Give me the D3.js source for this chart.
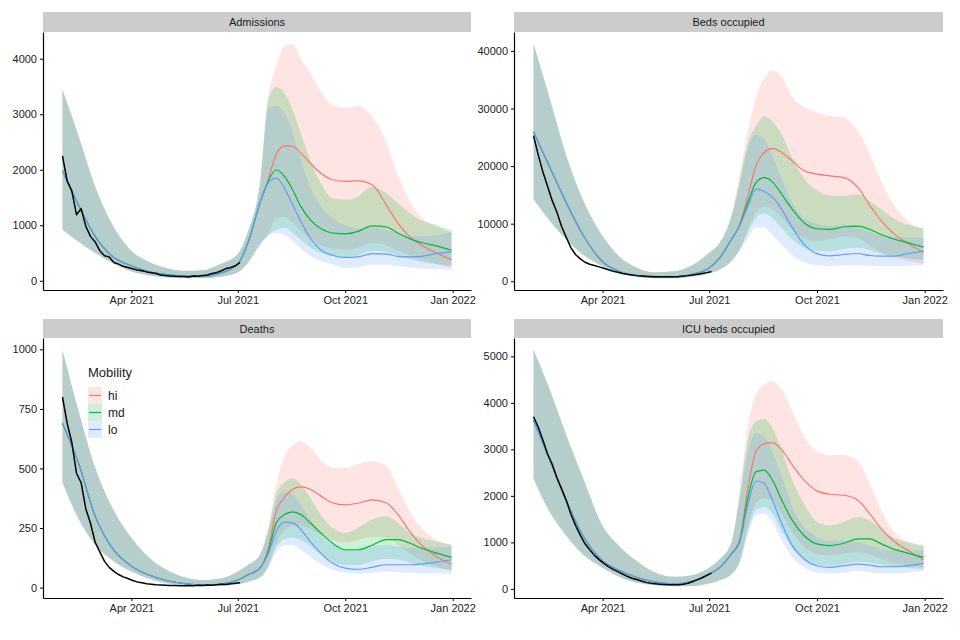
<!DOCTYPE html>
<html>
<head>
<meta charset="utf-8">
<script src="https://cdn.jsdelivr.net/npm/d3@7"></script>
<style>
    body { margin: 0; background: #fff; }
    text { font-family: "Liberation Sans", Arial, sans-serif; }
</style>
</head>
<body>
<svg width="960" height="640"></svg>
<script>
// knot dates for the model curves: first 13 are shared by all scenarios, the rest split by mobility
const knotDates = ["2021-02-01", "2021-02-15", "2021-03-01", "2021-03-15", "2021-04-01", "2021-04-15",
    "2021-05-01", "2021-05-15", "2021-06-01", "2021-06-15", "2021-07-01", "2021-07-10", "2021-07-20",
    "2021-07-27", "2021-08-03", "2021-08-10", "2021-08-17", "2021-08-24", "2021-09-01", "2021-09-10",
    "2021-09-20", "2021-10-01", "2021-10-12", "2021-10-24", "2021-11-05", "2021-11-15", "2021-11-25",
    "2021-12-05", "2021-12-18", "2021-12-31"]
const obsStart = "2021-02-01"
const obsStepDays = 4
const xTickDates = ["2021-04-01", "2021-07-01", "2021-10-01", "2022-01-01"]
const scenarios = ["hi", "md", "lo"]
const scenarioColors = ["#F8766D", "#00BA38", "#619CFF"]
const legendTitle = "Mobility"

// Admissions
const admTicks = [0, 1000, 2000, 3000, 4000]
const admEarlyMid = [1980, 1350, 800, 450, 270, 170, 110, 85, 85, 130, 300, 700, 1400]
const admEarlyLow = [920, 700, 500, 330, 165, 100, 60, 45, 45, 70, 150, 330, 650]
const admEarlyUp = [3440, 2600, 1700, 1040, 540, 350, 230, 180, 190, 290, 480, 900, 1750]
const admHiMid = [1810, 2280, 2430, 2420, 2300, 2120, 1940, 1820, 1790, 1800, 1730, 1370, 1040, 800, 650, 500, 380]
const admHiLow = [850, 1130, 1150, 1050, 900, 760, 640, 580, 560, 600, 680, 640, 540, 460, 380, 300, 230]
const admHiUp = [3300, 3860, 4220, 4270, 4000, 3740, 3410, 3170, 3110, 3150, 2960, 2500, 1900, 1450, 1150, 980, 850]
const admMdMid = [1790, 2000, 1880, 1640, 1340, 1100, 940, 860, 845, 890, 990, 970, 860, 760, 690, 630, 550]
const admMdLow = [820, 920, 950, 870, 740, 600, 500, 450, 430, 460, 540, 520, 450, 390, 340, 300, 270]
const admMdUp = [3250, 3490, 3380, 3080, 2660, 2180, 1760, 1490, 1460, 1520, 1700, 1580, 1400, 1220, 1090, 1000, 910]
const admLoMid = [1760, 1850, 1670, 1370, 1070, 770, 560, 460, 420, 430, 490, 480, 440, 430, 440, 490, 520]
const admLoLow = [800, 860, 830, 720, 580, 450, 360, 300, 230, 240, 290, 290, 260, 240, 220, 210, 200]
const admLoUp = [3100, 3150, 3020, 2660, 2180, 1700, 1340, 1130, 1000, 940, 960, 920, 860, 820, 800, 820, 880]
const admObs = [2250, 1800, 1620, 1190, 1300, 980, 800, 700, 540, 450, 430, 330, 300, 260, 240, 215, 195, 180,
    160, 145, 130, 105, 95, 85, 80, 75, 78, 68, 85, 80, 95, 105, 130, 150, 180, 220, 240, 270, 330]

// Beds occupied
const bedsTicks = [0, 10000, 20000, 30000, 40000]
const bedsEarlyMid = [25970, 19750, 13650, 8130, 3400, 1740, 990, 755, 755, 1160, 2320, 4070, 7260]
const bedsEarlyLow = [14230, 10460, 7260, 4650, 2610, 1450, 755, 520, 520, 755, 1340, 2030, 3490]
const bedsEarlyUp = [41250, 31660, 21790, 14230, 7840, 4360, 2320, 1570, 1740, 2610, 4940, 6680, 11330]
const bedsHiMid = [9800, 14820, 20040, 22370, 23070, 22370, 20900, 19200, 18600, 18300, 18010, 16300, 13200, 10500, 8400, 6500, 5000]
const bedsHiLow = [5600, 9000, 12000, 13000, 12500, 11000, 9000, 7500, 7000, 7200, 7800, 7500, 6200, 5000, 4200, 3500, 3000]
const bedsHiUp = [18500, 26000, 32000, 35300, 36600, 35500, 32000, 30200, 29300, 28700, 28400, 26000, 22200, 17300, 13500, 10400, 9000]
const bedsMdMid = [9700, 13650, 17140, 18010, 17260, 15100, 12490, 10170, 9120, 9000, 9470, 9590, 9000, 8130, 7380, 6680, 5930]
const bedsMdLow = [5400, 8500, 11000, 11800, 11000, 9200, 7300, 5800, 5200, 5200, 5600, 5800, 5400, 4800, 4400, 4000, 3700]
const bedsMdUp = [17500, 24000, 27000, 28600, 27800, 25500, 21400, 17800, 15800, 14900, 14800, 15100, 14000, 12500, 11000, 9800, 9200]
const bedsLoMid = [9590, 13000, 16000, 15600, 14600, 12490, 9300, 6400, 4800, 4400, 4650, 4820, 4470, 4360, 4360, 4820, 5230]
const bedsLoLow = [5230, 7500, 9400, 9300, 8000, 6300, 4500, 3300, 2800, 2700, 2800, 2800, 2700, 2600, 2600, 2700, 2800]
const bedsLoUp = [16560, 22950, 25500, 24700, 21800, 17700, 13600, 11000, 10000, 9600, 9800, 9400, 8600, 8000, 7700, 7600, 7500]
const bedsObs = [25300, 22000, 19000, 16500, 14000, 12000, 9500, 7600, 5800, 4600, 3900, 3300, 2950, 2750, 2500,
    2250, 2000, 1750, 1550, 1350, 1200, 1080, 980, 920, 870, 830, 800, 780, 770, 780, 800, 840, 900, 980, 1080,
    1200, 1350, 1500, 1700]

// Deaths
const deathsTicks = [0, 250, 500, 750, 1000]
const deathsEarlyMid = [690, 519, 300, 170, 90, 55, 30, 18, 11, 14, 32, 54, 82]
const deathsEarlyLow = [441, 286, 180, 117, 68, 39, 18, 10, 6, 8, 14, 25, 42]
const deathsEarlyUp = [998, 737, 504, 342, 209, 131, 75, 46, 32, 37, 68, 96, 138]
const deathsHiMid = [160, 321, 378, 413, 423, 413, 385, 356, 347, 354, 368, 356, 307, 237, 180, 131, 99]
const deathsHiLow = [90, 190, 240, 260, 260, 245, 220, 200, 190, 200, 215, 210, 180, 145, 115, 90, 70]
const deathsHiUp = [250, 434, 547, 596, 614, 589, 533, 504, 502, 519, 530, 511, 420, 321, 251, 201, 180]
const deathsMdMid = [150, 272, 307, 318, 307, 272, 230, 187, 159, 159, 178, 201, 201, 187, 166, 145, 127]
const deathsMdLow = [85, 170, 205, 210, 200, 175, 140, 110, 95, 95, 110, 120, 118, 105, 92, 82, 75]
const deathsMdUp = [240, 392, 441, 459, 434, 378, 307, 251, 230, 251, 286, 300, 272, 230, 209, 194, 180]
const deathsLoMid = [140, 237, 275, 272, 244, 194, 145, 103, 82, 77, 85, 96, 96, 96, 99, 107, 117]
const deathsLoLow = [80, 150, 178, 178, 160, 130, 100, 75, 62, 58, 62, 68, 66, 62, 60, 60, 58]
const deathsLoUp = [230, 364, 403, 392, 349, 286, 223, 180, 159, 159, 173, 180, 173, 166, 166, 169, 173]
const deathsObs = [800, 690, 610, 480, 440, 330, 270, 190, 150, 110, 85, 68, 55, 45, 38, 30, 24, 20, 16, 14,
    12, 11, 10, 9, 9, 8, 8, 9, 8, 10, 9, 11, 10, 12, 14, 13, 16, 18, 20]

// ICU beds occupied
const icuTicks = [0, 1000, 2000, 3000, 4000, 5000]
const icuEarlyMid = [3630, 2763, 1898, 1150, 600, 400, 240, 150, 110, 150, 320, 460, 750]
const icuEarlyLow = [2370, 1645, 1140, 743, 455, 260, 130, 79, 58, 58, 115, 188, 310]
const icuEarlyUp = [5140, 4278, 3304, 2403, 1356, 924, 584, 361, 260, 289, 455, 635, 1000]
const icuHiMid = [1050, 2150, 2951, 3117, 3146, 2987, 2662, 2338, 2107, 2035, 2013, 1905, 1616, 1291, 1039, 823, 620]
const icuHiLow = [600, 1350, 1850, 1950, 1900, 1600, 1220, 900, 750, 720, 760, 800, 740, 640, 560, 500, 450]
const icuHiUp = [2100, 3500, 4177, 4394, 4466, 4286, 3817, 3276, 2951, 2879, 2879, 2734, 2266, 1688, 1255, 1003, 931]
const icuMdMid = [1020, 1950, 2518, 2554, 2338, 1905, 1472, 1147, 967, 931, 981, 1075, 1075, 967, 859, 765, 678]
const icuMdLow = [570, 1250, 1700, 1760, 1620, 1250, 880, 640, 520, 500, 530, 580, 560, 520, 480, 450, 430]
const icuMdUp = [2000, 3200, 3600, 3651, 3456, 2987, 2338, 1833, 1436, 1364, 1436, 1544, 1472, 1291, 1111, 1003, 931]
const icuLoMid = [1000, 1800, 2320, 2266, 1905, 1400, 931, 642, 498, 462, 498, 534, 512, 476, 476, 498, 548]
const icuLoLow = [550, 1150, 1580, 1616, 1436, 1039, 678, 462, 354, 332, 354, 390, 354, 332, 332, 354, 390]
const icuLoUp = [1900, 2900, 3348, 3276, 2951, 2410, 1760, 1328, 1111, 1039, 1039, 1003, 931, 859, 823, 823, 823]
const icuObs = [3700, 3480, 3200, 2900, 2680, 2390, 2150, 1900, 1600, 1360, 1150, 970, 840, 720, 630, 550, 480,
    420, 370, 320, 270, 230, 200, 170, 140, 120, 110, 100, 95, 90, 88, 90, 100, 120, 160, 200, 240, 290, 340]

const parseDay = d3.timeParse("%Y-%m-%d")
const knots = knotDates.map(parseDay)
const xTicks = xTickDates.map(parseDay)
const obsDates = admObs.map((v, i) => d3.timeDay.offset(parseDay(obsStart), i * obsStepDays))

const panels = [
    {
        title: "Admissions", x0: 43, x1: 471, y0: 32, y1: 290, stripTop: 12, ticks: admTicks, obs: admObs,
        early: [admEarlyLow, admEarlyMid, admEarlyUp],
        scen: [[admHiLow, admHiMid, admHiUp], [admMdLow, admMdMid, admMdUp], [admLoLow, admLoMid, admLoUp]]
    },
    {
        title: "Beds occupied", x0: 514, x1: 943, y0: 32, y1: 290, stripTop: 12, ticks: bedsTicks, obs: bedsObs,
        early: [bedsEarlyLow, bedsEarlyMid, bedsEarlyUp],
        scen: [[bedsHiLow, bedsHiMid, bedsHiUp], [bedsMdLow, bedsMdMid, bedsMdUp], [bedsLoLow, bedsLoMid, bedsLoUp]]
    },
    {
        title: "Deaths", x0: 43, x1: 471, y0: 338, y1: 598, stripTop: 319, ticks: deathsTicks, obs: deathsObs,
        early: [deathsEarlyLow, deathsEarlyMid, deathsEarlyUp],
        scen: [[deathsHiLow, deathsHiMid, deathsHiUp], [deathsMdLow, deathsMdMid, deathsMdUp], [deathsLoLow, deathsLoMid, deathsLoUp]],
        legend: true
    },
    {
        title: "ICU beds occupied", x0: 514, x1: 943, y0: 338, y1: 598, stripTop: 319, ticks: icuTicks, obs: icuObs,
        early: [icuEarlyLow, icuEarlyMid, icuEarlyUp],
        scen: [[icuHiLow, icuHiMid, icuHiUp], [icuMdLow, icuMdMid, icuMdUp], [icuLoLow, icuLoMid, icuLoUp]]
    },
]

// ggplot-style 5% padding on each side
function expand(extent) {
    const pad = (extent[1] - extent[0]) * 0.05
    return [extent[0] - pad, extent[1] + pad]
}

const svg = d3.select("svg")

panels.forEach(p => {
    const g = svg.append("g")

    const xd = expand(d3.extent(knots, d => +d))
    const x = d3.scaleTime().domain(xd.map(v => new Date(v))).range([p.x0, p.x1])

    // join the shared early part with each scenario
    const series = p.scen.map(s => knots.map((d, i) => {
        const k = i - p.early[0].length
        return {
            date: d,
            low: k < 0 ? p.early[0][i] : s[0][k],
            mid: k < 0 ? p.early[1][i] : s[1][k],
            up: k < 0 ? p.early[2][i] : s[2][k],
        }
    }))

    const allValues = series.flat().flatMap(d => [d.low, d.up]).concat(p.obs)
    const y = d3.scaleLinear().domain(expand(d3.extent(allValues))).range([p.y1, p.y0])

    // strip
    g.append("rect")
        .attr("x", p.x0).attr("y", p.stripTop)
        .attr("width", p.x1 - p.x0).attr("height", p.y0 - p.stripTop)
        .attr("fill", "#cccccc")
    g.append("text")
        .attr("x", (p.x0 + p.x1) / 2).attr("y", (p.stripTop + p.y0) / 2)
        .attr("text-anchor", "middle").attr("dominant-baseline", "central")
        .attr("font-size", 11).attr("fill", "#1a1a1a")
        .text(p.title)

    const area = d3.area()
        .x(d => x(d.date)).y0(d => y(d.low)).y1(d => y(d.up))
        .curve(d3.curveMonotoneX)
    const line = d3.line()
        .x(d => x(d.date)).y(d => y(d.mid))
        .curve(d3.curveMonotoneX)

    g.append("g").selectAll("path")
        .data(series)
        .enter().append("path")
        .attr("d", area)
        .attr("fill", (d, i) => scenarioColors[i])
        .attr("fill-opacity", 0.2)

    g.append("g").selectAll("path")
        .data(series)
        .enter().append("path")
        .attr("d", line)
        .attr("fill", "none")
        .attr("stroke", (d, i) => scenarioColors[i])
        .attr("stroke-width", 1.2)

    // observed data
    g.append("path")
        .datum(p.obs.map((v, i) => ({ date: obsDates[i], v: v })))
        .attr("d", d3.line().x(d => x(d.date)).y(d => y(d.v)))
        .attr("fill", "none")
        .attr("stroke", "#000")
        .attr("stroke-width", 1.5)
        .attr("stroke-linejoin", "round")

    // axes
    const xAxis = g.append("g")
        .attr("transform", `translate(0,${p.y1})`)
        .call(d3.axisBottom(x).tickValues(xTicks).tickFormat(d3.timeFormat("%b %Y"))
            .tickSize(3).tickSizeOuter(0).tickPadding(3))
    const yAxis = g.append("g")
        .attr("transform", `translate(${p.x0},0)`)
        .call(d3.axisLeft(y).tickValues(p.ticks).tickFormat(d3.format("d"))
            .tickSize(3).tickSizeOuter(0).tickPadding(3))

    for (const a of [xAxis, yAxis]) {
        a.attr("font-family", null).attr("font-size", null)
        a.select(".domain").attr("stroke", "#000").attr("stroke-width", 1.2)
        a.selectAll(".tick line").attr("stroke", "#000").attr("stroke-width", 1)
        a.selectAll(".tick text").attr("fill", "#222").attr("font-size", 11)
    }

    if (p.legend) {
        const lg = g.append("g").attr("transform", "translate(88,372)")
        lg.append("text")
            .attr("x", 0).attr("y", 0)
            .attr("dominant-baseline", "central")
            .attr("font-size", 13).attr("fill", "#1a1a1a")
            .text(legendTitle)
        scenarios.forEach((s, i) => {
            const ky = 15 + i * 17
            lg.append("rect")
                .attr("x", 0).attr("y", ky)
                .attr("width", 14).attr("height", 17)
                .attr("fill", scenarioColors[i]).attr("fill-opacity", 0.2)
            lg.append("line")
                .attr("x1", 1).attr("x2", 13)
                .attr("y1", ky + 8.5).attr("y2", ky + 8.5)
                .attr("stroke", scenarioColors[i]).attr("stroke-width", 1.2)
            lg.append("text")
                .attr("x", 20).attr("y", ky + 8.5)
                .attr("dominant-baseline", "central")
                .attr("font-size", 12).attr("fill", "#1a1a1a")
                .text(s)
        })
    }
})
</script>
</body>
</html>
